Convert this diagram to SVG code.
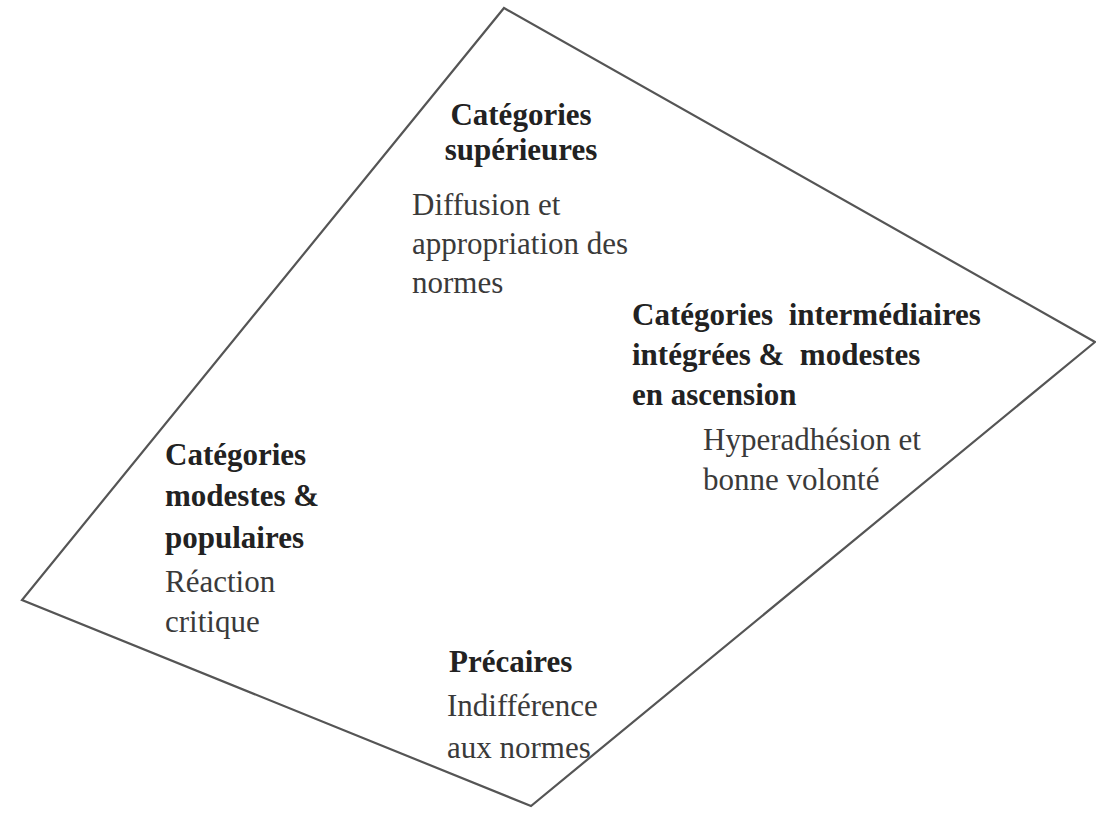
<svg xmlns="http://www.w3.org/2000/svg" width="1096" height="813" viewBox="0 0 1096 813">
<style>
.b{font-family:"Liberation Serif","Times New Roman",serif;font-weight:bold;font-size:31px;fill:#222;white-space:pre}
.r{font-family:"Liberation Serif","Times New Roman",serif;font-size:31px;fill:#3a3a3a;white-space:pre}
.edge{fill:none;stroke:#555;stroke-width:2.2;stroke-linejoin:miter}
</style>
<rect width="1096" height="813" fill="#fff"/>
<g id="connectors">
<polygon class="edge" points="504,8 1095,342 531,806 22,600"/>
</g>
<g id="node-superieures">
<text class="b" x="521" y="125" text-anchor="middle">Catégories</text>
<text class="b" x="521" y="160" text-anchor="middle">supérieures</text>
<text class="r" x="412" y="215">Diffusion et</text>
<text class="r" x="412" y="254">appropriation des</text>
<text class="r" x="412" y="293">normes</text>
</g>
<g id="node-intermediaires">
<text class="b" x="632" y="325">Catégories  intermédiaires</text>
<text class="b" x="632" y="365">intégrées &amp;  modestes</text>
<text class="b" x="632" y="405">en ascension</text>
<text class="r" x="703" y="450">Hyperadhésion et</text>
<text class="r" x="703" y="490">bonne volonté</text>
</g>
<g id="node-modestes">
<text class="b" x="165" y="465">Catégories</text>
<text class="b" x="165" y="506">modestes &amp;</text>
<text class="b" x="165" y="548">populaires</text>
<text class="r" x="165" y="592">Réaction</text>
<text class="r" x="165" y="632">critique</text>
</g>
<g id="node-precaires">
<text class="b" x="449" y="672">Précaires</text>
<text class="r" x="447" y="716">Indifférence</text>
<text class="r" x="447" y="758">aux normes</text>
</g>
</svg>
